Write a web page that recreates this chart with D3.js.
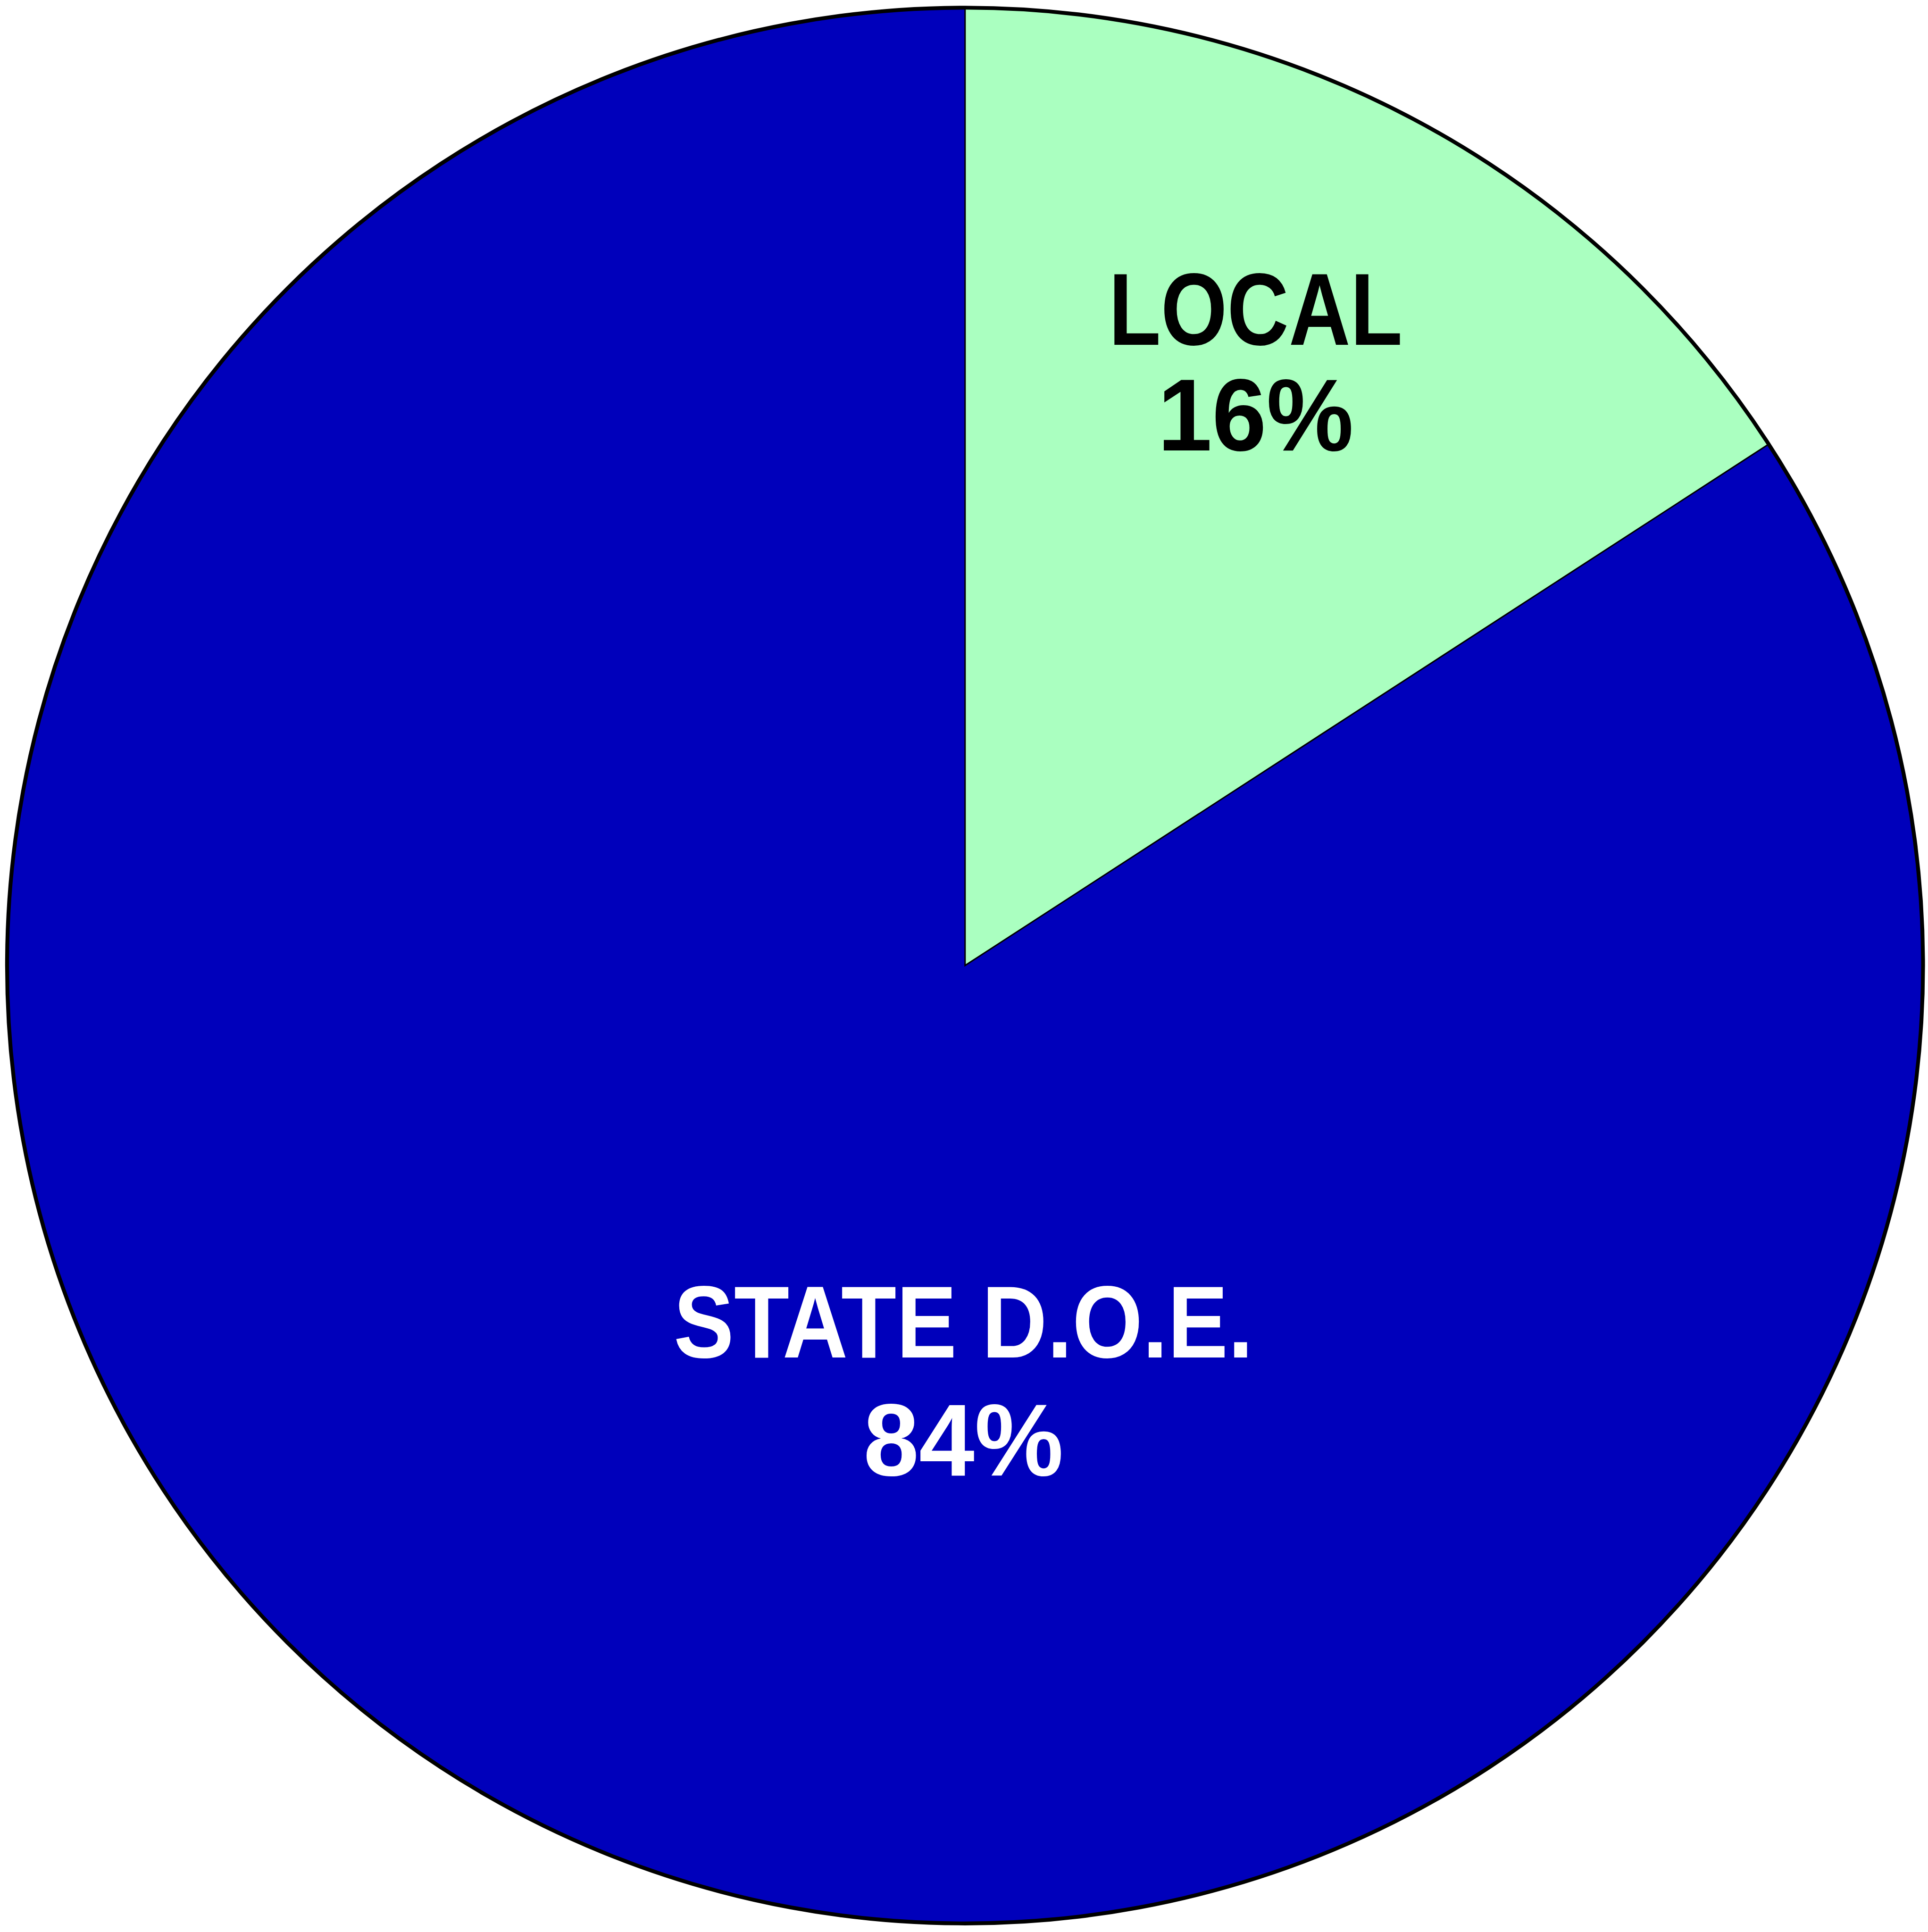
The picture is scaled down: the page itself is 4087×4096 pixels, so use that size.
<!DOCTYPE html>
<html>
<head>
<meta charset="utf-8">
<script src="https://cdn.jsdelivr.net/npm/d3@7"></script>
<style>
html,body{margin:0;padding:0;background:#fff;}
svg{display:block;}
</style>
</head>
<body>
<svg id="chart" width="4087" height="4096"></svg>
<script>
// ---- data ----
const categories = ["LOCAL", "STATE D.O.E."];
const values = [15.84, 84.16];
const percentLabels = ["16%", "84%"];

// ---- layout (reference px scaled by 0.865) ----
const S = 0.865;
const cx = 2365 * S, cy = 2366.5 * S, R = 2347.7 * S;
const colors = ["#AAFFC0", "#0000BB"];
const textColors = ["#000000", "#ffffff"];
// label placement relative to the centre (reference px)
const labelLayout = [
  {dx: 712, y1: 844.6 - 2366.5, y2: 1104 - 2366.5, w1: 720, w2: 480},
  {dx: -4,  y1: 3327 - 2366.5, y2: 3616 - 2366.5, w1: 1420, w2: 490}
];
const fontSize = 252 * S;

const svg = d3.select("#chart");
const g = svg.append("g").attr("transform", `translate(${cx},${cy})`);

const pie = d3.pie().sort(null).value(d => d.v);
const arcs = pie(categories.map((c, i) => ({c, v: values[i], i})));
const arc = d3.arc().innerRadius(0).outerRadius(R);

g.selectAll("path.slice").data(arcs).join("path")
  .attr("class", "slice")
  .attr("d", arc)
  .attr("fill", d => colors[d.data.i])
  .attr("stroke", "#000")
  .attr("stroke-width", 3.3 * S)
  .attr("stroke-linejoin", "miter");

g.append("circle").attr("r", R).attr("fill", "none")
  .attr("stroke", "#000").attr("stroke-width", 9.5 * S);

const lbl = g.selectAll("g.lbl").data(arcs).join("g").attr("class", "lbl");
lbl.each(function(d) {
  const L = labelLayout[d.data.i];
  const sel = d3.select(this);
  const common = t => t.attr("text-anchor", "middle")
    .attr("font-family", "'Liberation Sans', Arial, Helvetica, sans-serif")
    .attr("font-weight", "bold")
    .attr("font-size", fontSize)
    .attr("fill", textColors[d.data.i])
    .attr("lengthAdjust", "spacingAndGlyphs");
  sel.append("text").call(common)
    .attr("x", L.dx * S).attr("y", L.y1 * S)
    .attr("textLength", L.w1 * S)
    .text(d.data.c);
  sel.append("text").call(common)
    .attr("x", L.dx * S).attr("y", L.y2 * S)
    .attr("textLength", L.w2 * S)
    .text(percentLabels[d.data.i]);
});
</script>
</body>
</html>
